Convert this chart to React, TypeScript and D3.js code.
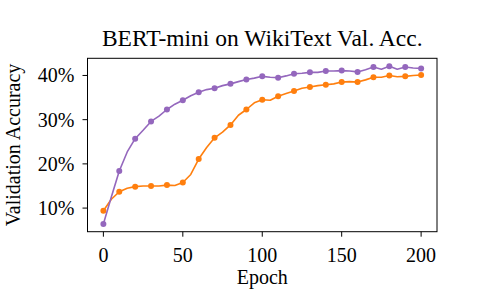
import React from "react";
import * as d3 from "d3";

const epochs = [0,5,10,15,20,25,30,35,40,45,50,55,60,65,70,75,80,85,90,95,100,105,110,115,120,125,130,135,140,145,150,155,160,165,170,175,180,185,190,195,200];
const purpleAcc = [6.4,12.5,18.4,22.7,25.7,27.6,29.6,30.8,32.3,33.5,34.4,35.4,36.2,36.8,37.1,37.7,38.1,38.6,39.1,39.4,39.8,39.6,39.5,39.9,40.4,40.5,40.7,40.7,41.0,41.0,41.1,41.0,40.8,41.3,41.9,41.4,42.1,41.4,41.9,41.7,41.6];
const orangeAcc = [9.4,12.0,13.7,14.5,14.85,15.0,15.0,15.0,15.2,15.1,15.8,17.6,21.1,23.7,25.9,27.2,28.8,31.0,32.3,33.8,34.5,34.4,35.3,35.9,36.5,37.1,37.4,37.7,37.9,38.1,38.5,38.6,38.5,39.0,39.6,39.6,40.0,39.7,39.8,40.0,40.1];
const xTicks = [0, 50, 100, 150, 200];
const yTicks = [10, 20, 30, 40];
const title = "BERT-mini on WikiText Val. Acc.";
const xLabel = "Epoch";
const yLabel = "Validation Accuracy";

const W = 503, H = 291;
const L = 87.5, R = 437, T = 58.3, B = 231.7;
const FONT = "'Liberation Serif', 'Times New Roman', serif";

export default function App() {
  const x = d3.scaleLinear().domain([-10, 210]).range([L, R]);
  const y = d3.scaleLinear().domain([4.66, 43.88]).range([B, T]);
  const line = d3.line<number>().x((_, i) => x(epochs[i])).y((v) => y(v)).curve(d3.curveLinear);
  const series = [
    { vals: orangeAcc, color: "#ff7f0e" },
    { vals: purpleAcc, color: "#9467bd" },
  ];
  const txt = { fontFamily: FONT, fill: "#000" } as const;
  return (
    <svg width={W} height={H} style={{ position: "absolute", left: 0, top: 0, background: "#fff" }}>
      <rect x={0} y={0} width={W} height={H} fill="#fff" />
      <text x={(L + R) / 2} y={46} textAnchor="middle" fontSize={23.5} {...txt}>{title}</text>
      {series.map((s, k) => (
        <g key={k}>
          <path d={line(s.vals) || ""} fill="none" stroke={s.color} strokeWidth={1.6} strokeLinejoin="round" />
          {s.vals.map((v, i) => epochs[i] % 10 === 0 ? (
            <circle key={i} cx={x(epochs[i])} cy={y(v)} r={3} fill={s.color} />
          ) : null)}
        </g>
      ))}
      <rect x={L} y={T} width={R - L} height={B - T} fill="none" stroke="#000" strokeWidth={1} />
      {xTicks.map((t) => (
        <g key={t}>
          <line x1={x(t)} x2={x(t)} y1={B} y2={B + 5} stroke="#000" strokeWidth={1} />
          <text x={x(t)} y={261.5} textAnchor="middle" fontSize={20} {...txt}>{t}</text>
        </g>
      ))}
      {yTicks.map((t) => (
        <g key={t}>
          <line x1={L - 5} x2={L} y1={y(t)} y2={y(t)} stroke="#000" strokeWidth={1} />
          <text x={L - 13} y={y(t)} dy="0.35em" textAnchor="end" fontSize={20} {...txt}>{t}%</text>
        </g>
      ))}
      <text x={(L + R) / 2} y={284} textAnchor="middle" fontSize={20} {...txt}>{xLabel}</text>
      <text transform={`translate(20,${(T + B) / 2}) rotate(-90)`} textAnchor="middle" fontSize={20} {...txt}>{yLabel}</text>
    </svg>
  );
}
